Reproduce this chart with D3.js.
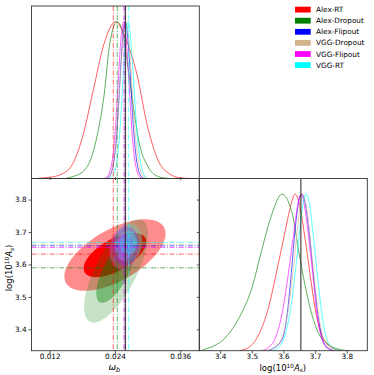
<!DOCTYPE html>
<html>
<head>
<meta charset="utf-8">
<script src="https://cdn.jsdelivr.net/npm/d3@7"></script>
<style>
body { margin: 0; background: #fff; }
text { font-family: "DejaVu Sans", sans-serif; fill: #000; }
</style>
</head>
<body>
<script>
// models, in plotting order
var models = ["Alex-RT", "Alex-Dropout", "Alex-Flipout", "VGG-Dropout", "VGG-Flipout", "VGG-RT"];
var colors = ["#ff0000", "#008000", "#0000ff", "#d2b48c", "#ff00ff", "#00ffff"];

var wbTicks = [0.012, 0.024, 0.036];
var asTicks = [3.4, 3.5, 3.6, 3.7, 3.8];

// posterior means (dash-dot lines) and true values
var wbMean = [0.02369, 0.02442, 0.02589, 0.0260, 0.02565, 0.02652];
var asMean = [3.6318, 3.5896, 3.6574, 3.662, 3.6525, 3.668];
var wbTrue = 0.0259;
var asTrue = 3.655;

// 1D marginals of omega_b, [value, density/peak]
var wbRT = [[0.0100,0.002],[0.0120,0.008],[0.0140,0.025],[0.0160,0.08],[0.0180,0.26],[0.0200,0.56],[0.0220,0.86],[0.0241,1],[0.0260,0.89],[0.0280,0.67],[0.0300,0.33],[0.0320,0.11],[0.0340,0.03],[0.0360,0.004],[0.0380,0]];
var wbDrop = [[0.0150,0],[0.0160,0.01],[0.0180,0.04],[0.0200,0.17],[0.0210,0.32],[0.0220,0.53],[0.0230,0.85],[0.0244,1],[0.0255,0.92],[0.0265,0.68],[0.0275,0.43],[0.0285,0.22],[0.0300,0.08],[0.0320,0.012],[0.0340,0]];
var wbFlip = [[0.0224,0],[0.0229,0.011],[0.0234,0.044],[0.0239,0.135],[0.0244,0.32],[0.0249,0.61],[0.0254,0.88],[0.0259,1],[0.0264,0.88],[0.0269,0.61],[0.0274,0.32],[0.0279,0.135],[0.0284,0.044],[0.0289,0.011],[0.0294,0]];
var wbVggDrop = [[0.0220,0],[0.0228,0.012],[0.0234,0.05],[0.0240,0.19],[0.0245,0.39],[0.0250,0.66],[0.0255,0.9],[0.0260,1],[0.0265,0.9],[0.0270,0.66],[0.0275,0.39],[0.0281,0.16],[0.0287,0.05],[0.0293,0.012],[0.0300,0]];
var wbVggFlip = [[0.0221,0],[0.0226,0.012],[0.0231,0.048],[0.0236,0.14],[0.0241,0.33],[0.0246,0.62],[0.0251,0.89],[0.02565,1],[0.0261,0.87],[0.0266,0.6],[0.0271,0.31],[0.0276,0.13],[0.0281,0.04],[0.0286,0.01],[0.0291,0]];
var wbVggRT = [[0.0228,0],[0.0235,0.015],[0.0240,0.05],[0.0245,0.15],[0.0250,0.35],[0.0255,0.66],[0.0260,0.92],[0.02645,1],[0.0270,0.84],[0.0275,0.58],[0.0280,0.32],[0.0285,0.15],[0.0290,0.055],[0.0295,0.015],[0.0302,0]];

// 1D marginals of log(10^10 A_s)
var asRT = [[3.46,0],[3.49,0.02],[3.521,0.10],[3.552,0.27],[3.579,0.51],[3.605,0.76],[3.621,0.91],[3.637,1],[3.653,0.91],[3.668,0.72],[3.684,0.49],[3.700,0.27],[3.721,0.10],[3.753,0.02],[3.78,0]];
var asDrop = [[3.34,0],[3.352,0.01],[3.38,0.03],[3.415,0.08],[3.457,0.2],[3.50,0.40],[3.531,0.64],[3.563,0.87],[3.595,1],[3.626,0.89],[3.647,0.65],[3.668,0.42],[3.690,0.23],[3.711,0.11],[3.742,0.04],[3.785,0.005],[3.81,0]];
var asFlip = [[3.55,0],[3.563,0.01],[3.595,0.07],[3.611,0.22],[3.625,0.5],[3.637,0.78],[3.648,0.95],[3.658,1],[3.669,0.94],[3.682,0.74],[3.695,0.48],[3.709,0.23],[3.724,0.07],[3.742,0.015],[3.76,0]];
var asVggDrop = [[3.54,0],[3.56,0.01],[3.59,0.06],[3.61,0.2],[3.63,0.5],[3.645,0.8],[3.66,1],[3.675,0.88],[3.69,0.6],[3.705,0.32],[3.72,0.13],[3.74,0.03],[3.76,0.005],[3.775,0]];
var asVggFlip = [[3.53,0],[3.552,0.02],[3.574,0.08],[3.595,0.23],[3.616,0.5],[3.632,0.74],[3.645,0.93],[3.656,1],[3.666,0.93],[3.679,0.74],[3.692,0.5],[3.706,0.23],[3.721,0.08],[3.742,0.01],[3.76,0]];
var asVggRT = [[3.565,0],[3.584,0.02],[3.605,0.1],[3.625,0.3],[3.640,0.55],[3.654,0.82],[3.664,0.96],[3.671,1],[3.682,0.94],[3.695,0.72],[3.709,0.45],[3.724,0.2],[3.742,0.05],[3.763,0.01],[3.78,0]];

var wbCurves = [wbRT, wbDrop, wbFlip, wbVggDrop, wbVggFlip, wbVggRT];
var asCurves = [asRT, asDrop, asFlip, asVggDrop, asVggFlip, asVggRT];

// 2D contours: centre, spread and correlation of each model
var cWb = [0.0240, 0.0242, 0.0259, 0.0260, 0.02565, 0.0265];
var cAs = [3.629, 3.580, 3.656, 3.658, 3.650, 3.666];
var sWb = [0.0038, 0.0024, 0.00105, 0.0012, 0.00112, 0.00105];
var sAs = [0.045, 0.065, 0.024, 0.03, 0.028, 0.024];
var rho = [0.6, 0.7, 0.1, 0.2, 0.15, 0.1];
var levels = [2.448, 1.515]; // 95%, 68%

var outerAlpha = [0.45, 0.22, 0.28, 0.3, 0.2, 0.2];
var innerAlpha = [1.0, 0.4, 0.6, 0.35, 0.3, 0.3];

var width = 374, height = 375;
var L = 31.5, M = 199.3, R = 367.3, T = 6, MID = 178.5, B = 350.7;

var svg = d3.select("body").append("svg")
	.attr("width", width)
	.attr("height", height);

svg.append("rect").attr("width", width).attr("height", height).attr("fill", "#fff");

var xW = d3.scaleLinear().domain([0.00866, 0.0395]).range([L, M]);
var yA = d3.scaleLinear().domain([3.334, 3.865]).range([B, MID]);
var xA = d3.scaleLinear().domain([3.334, 3.865]).range([M, R]);
var yTop = d3.scaleLinear().domain([0, 1.1]).range([MID, T]);
var yRight = d3.scaleLinear().domain([0, 1.1]).range([B, MID]);

var defs = svg.append("defs");
function clip(id, x0, y0, x1, y1) {
	defs.append("clipPath").attr("id", id).append("rect")
		.attr("x", x0).attr("y", y0).attr("width", x1 - x0).attr("height", y1 - y0);
}
clip("cTL", L, T, M, MID);
clip("cBL", L, MID, M, B);
clip("cBR", M, MID, R, B);

var dashDot = "5,1.6,1,1.6";

// ---- 2D panel: filled contours
var gBL = svg.append("g").attr("clip-path", "url(#cBL)");

function ellipse(i, k) {
	var r = rho[i], q = Math.sqrt(1 - r * r);
	return d3.range(0, 96).map(function(j) {
		var t = j / 96 * 2 * Math.PI;
		return [cWb[i] + k * sWb[i] * Math.cos(t),
			cAs[i] + k * sAs[i] * (r * Math.cos(t) + q * Math.sin(t))];
	});
}
var contourLine = d3.line()
	.x(function(d) { return xW(d[0]); })
	.y(function(d) { return yA(d[1]); })
	.curve(d3.curveLinearClosed);

models.forEach(function(m, i) {
	gBL.append("path")
		.attr("d", contourLine(ellipse(i, levels[0])))
		.attr("fill", colors[i])
		.attr("fill-opacity", outerAlpha[i]);
	gBL.append("path")
		.attr("d", contourLine(ellipse(i, levels[1])))
		.attr("fill", colors[i])
		.attr("fill-opacity", innerAlpha[i]);
});

// mean lines in 2D panel
models.forEach(function(m, i) {
	gBL.append("line")
		.attr("x1", xW(wbMean[i])).attr("x2", xW(wbMean[i]))
		.attr("y1", MID).attr("y2", B)
		.attr("stroke", colors[i]).attr("stroke-opacity", 0.6)
		.attr("stroke-width", 1).attr("stroke-dasharray", dashDot);
	gBL.append("line")
		.attr("x1", L).attr("x2", M)
		.attr("y1", yA(asMean[i])).attr("y2", yA(asMean[i]))
		.attr("stroke", colors[i]).attr("stroke-opacity", 0.6)
		.attr("stroke-width", 1).attr("stroke-dasharray", dashDot);
});
gBL.append("line")
	.attr("x1", xW(wbTrue)).attr("x2", xW(wbTrue))
	.attr("y1", MID).attr("y2", B)
	.attr("stroke", "#222").attr("stroke-width", 1);

// ---- 1D panel of omega_b
var gTL = svg.append("g").attr("clip-path", "url(#cTL)");
var lineTop = d3.line()
	.x(function(d) { return xW(d[0]); })
	.y(function(d) { return yTop(d[1]); })
	.curve(d3.curveMonotoneX);

models.forEach(function(m, i) {
	gTL.append("path")
		.attr("d", lineTop(wbCurves[i]))
		.attr("fill", "none")
		.attr("stroke", colors[i]).attr("stroke-opacity", 0.7)
		.attr("stroke-width", 0.9);
});
models.forEach(function(m, i) {
	gTL.append("line")
		.attr("x1", xW(wbMean[i])).attr("x2", xW(wbMean[i]))
		.attr("y1", T).attr("y2", MID)
		.attr("stroke", colors[i]).attr("stroke-opacity", 0.6)
		.attr("stroke-width", 1).attr("stroke-dasharray", dashDot);
});
gTL.append("line")
	.attr("x1", xW(wbTrue)).attr("x2", xW(wbTrue))
	.attr("y1", T).attr("y2", MID)
	.attr("stroke", "#222").attr("stroke-width", 1);

// ---- 1D panel of log(10^10 A_s)
var gBR = svg.append("g").attr("clip-path", "url(#cBR)");
var lineRight = d3.line()
	.x(function(d) { return xA(d[0]); })
	.y(function(d) { return yRight(d[1]); })
	.curve(d3.curveMonotoneX);

models.forEach(function(m, i) {
	gBR.append("path")
		.attr("d", lineRight(asCurves[i]))
		.attr("fill", "none")
		.attr("stroke", colors[i]).attr("stroke-opacity", 0.7)
		.attr("stroke-width", 0.9);
});
gBR.append("line")
	.attr("x1", xA(asTrue)).attr("x2", xA(asTrue))
	.attr("y1", MID).attr("y2", B)
	.attr("stroke", "#333").attr("stroke-width", 1.1);

// ---- frames
[[L, T, M, MID], [L, MID, M, B], [M, MID, R, B]].forEach(function(p) {
	svg.append("rect")
		.attr("x", p[0]).attr("y", p[1])
		.attr("width", p[2] - p[0]).attr("height", p[3] - p[1])
		.attr("fill", "none").attr("stroke", "#333").attr("stroke-width", 0.9);
});

// ---- axes
function styleAxis(g) {
	g.select(".domain").remove();
	g.selectAll(".tick line").attr("stroke", "#333").attr("stroke-width", 0.8);
	g.selectAll(".tick text").attr("font-size", 7.3).attr("font-family", "DejaVu Sans, sans-serif");
}

svg.append("g")
	.attr("transform", "translate(0," + B + ")")
	.call(d3.axisBottom(xW).tickValues(wbTicks).tickFormat(d3.format(".3f")).tickSize(3).tickPadding(0.5))
	.call(styleAxis);

svg.append("g")
	.attr("transform", "translate(" + L + ",0)")
	.call(d3.axisLeft(yA).tickValues(asTicks).tickFormat(d3.format(".1f")).tickSize(3).tickPadding(1.8))
	.call(styleAxis);

svg.append("g")
	.attr("transform", "translate(0," + B + ")")
	.call(d3.axisBottom(xA).tickValues(asTicks).tickFormat(d3.format(".1f")).tickSize(3).tickPadding(0.5))
	.call(styleAxis);

// small ticks without labels
svg.append("g")
	.attr("transform", "translate(0," + (MID + 1.5) + ")")
	.call(d3.axisTop(xW).tickValues(wbTicks).tickFormat("").tickSize(3))
	.call(styleAxis);

svg.append("g")
	.attr("transform", "translate(" + M + ",0)")
	.call(d3.axisLeft(yA).tickValues(asTicks).tickFormat("").tickSize(2.5))
	.call(styleAxis);

// ---- axis labels
var lab = svg.append("text")
	.attr("x", (L + M) / 2 - 1).attr("y", 369.5)
	.attr("text-anchor", "middle").attr("font-size", 9);
lab.append("tspan").attr("font-style", "italic").text("ω");
lab.append("tspan").attr("font-style", "italic").attr("font-size", 6.5).attr("dy", 2).text("b");

function asLabel(g) {
	g.append("tspan").text("log(10");
	g.append("tspan").attr("font-size", 5.8).attr("dy", -3).text("10");
	g.append("tspan").attr("font-style", "italic").attr("dy", 3).text("A");
	g.append("tspan").attr("font-style", "italic").attr("font-size", 5.8).attr("dy", 1.8).text("s");
	g.append("tspan").attr("dy", -1.8).text(")");
}

var labR = svg.append("text")
	.attr("x", (M + R) / 2 - 0.5).attr("y", 370.5)
	.attr("text-anchor", "middle").attr("font-size", 8.5);
asLabel(labR);

var labL = svg.append("text")
	.attr("transform", "translate(12," + 268 + ") rotate(-90)")
	.attr("text-anchor", "middle").attr("font-size", 8.5);
asLabel(labL);

// ---- legend
var legend = svg.append("g");
models.forEach(function(m, i) {
	var cy = 9.6 + i * 11.1;
	legend.append("rect")
		.attr("x", 295).attr("y", cy - 2.9)
		.attr("width", 15.7).attr("height", 5.8)
		.attr("fill", colors[i]);
	legend.append("text")
		.attr("x", 316).attr("y", cy)
		.attr("dominant-baseline", "central")
		.attr("font-size", 7.3)
		.text(m);
});
</script>
</body>
</html>
